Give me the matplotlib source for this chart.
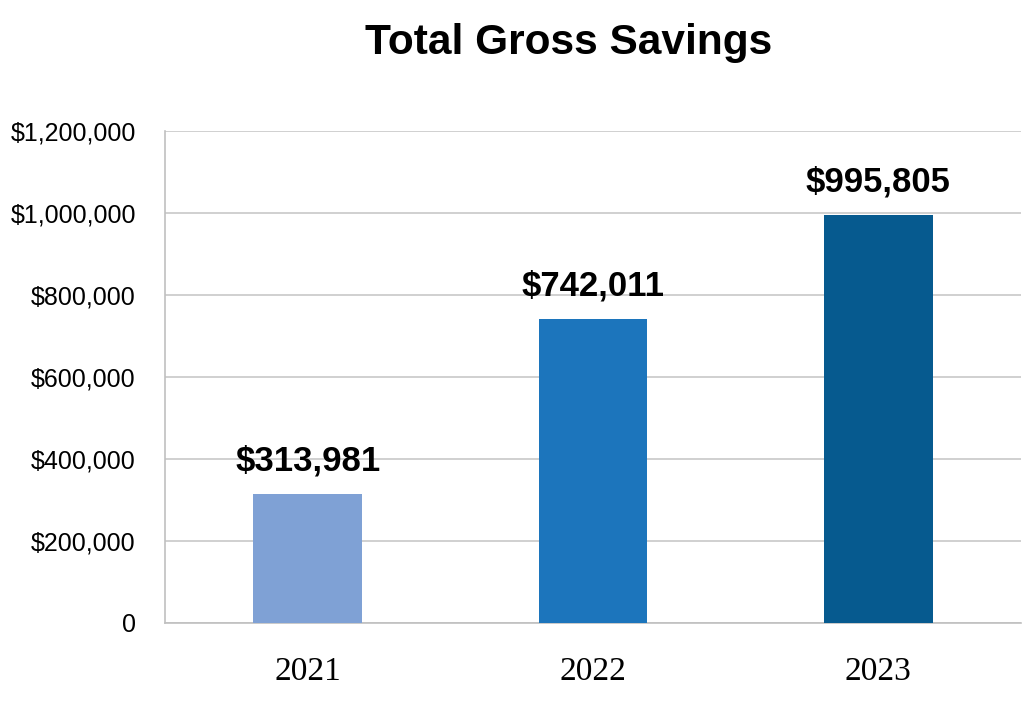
import matplotlib.pyplot as plt
import matplotlib.ticker as mticker

years = ["2021", "2022", "2023"]
savings = [313981, 742011, 995805]
colors = ["#7fa1d5", "#1c75bc", "#065a8f"]

fig = plt.figure(figsize=(10.24, 7.11), dpi=100)
ax = fig.add_axes([0.1611, 0.1238, 0.836, 0.692])

x = range(len(years))
bars = ax.bar(x, savings, width=0.38, color=colors, zorder=3)

ax.set_xlim(-0.5, 2.5)
ax.set_ylim(0, 1200000)
ax.yaxis.set_major_locator(mticker.MultipleLocator(200000))
ax.yaxis.set_major_formatter(mticker.FuncFormatter(lambda v, p: "0" if v == 0 else "${:,.0f}".format(v)))
ax.grid(axis="y", color="#c8c8c8", linewidth=1.2, zorder=0)

ax.set_xticks(list(x))
ax.set_xticklabels(years, fontfamily="Liberation Serif", fontsize=24)
for lbl in ax.get_yticklabels():
    lbl.set_fontfamily("Liberation Sans")
    lbl.set_fontsize(18)
ax.tick_params(length=0)
ax.tick_params(axis="x", pad=24)
ax.tick_params(axis="y", pad=21)

for s in ["top", "right"]:
    ax.spines[s].set_visible(False)
for s in ["left", "bottom"]:
    ax.spines[s].set_color("#c0c0c0")
    ax.spines[s].set_linewidth(1.2)

for b, v in zip(bars, savings):
    ax.annotate("${:,}".format(v), (b.get_x() + b.get_width() / 2, v),
                xytext=(0, 12), textcoords="offset points", ha="center", va="bottom",
                fontsize=25, fontweight="bold", fontfamily="Liberation Sans")

fig.text(0.555, 0.94, "Total Gross Savings", ha="center", va="center",
         fontsize=30.5, fontweight="bold", fontfamily="Liberation Sans")

fig.savefig("out.png", dpi=100)
